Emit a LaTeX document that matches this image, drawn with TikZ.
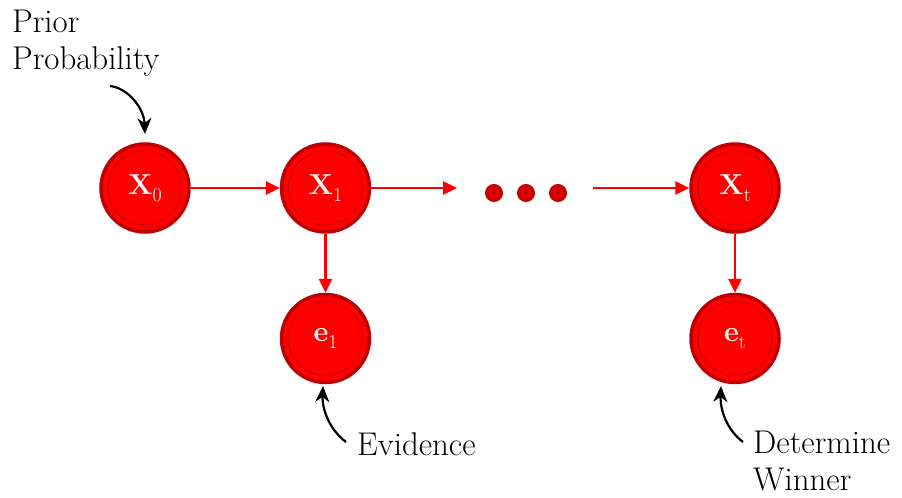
\documentclass[tikz,border=0pt]{standalone}
\usepackage{fontspec}
\usetikzlibrary{arrows.meta, positioning}
\definecolor{nodered}{HTML}{FF0000}
\definecolor{nodereddark}{HTML}{C00000}
\definecolor{ringred}{HTML}{D00000}
\definecolor{dotred}{HTML}{C80000}
\definecolor{textdark}{HTML}{000000}
\newcommand{\varsub}[2]{#1\raisebox{-7bp}{\fontsize{20}{20}\selectfont\mdseries #2}}

\begin{document}
\begin{tikzpicture}[x=1bp, y=-1bp,
    % ── Node styles ──────────────────────────────────────────────────────
    varnode/.style={
        circle, fill=nodered, draw=nodereddark, line width=3.5bp,
        minimum size=88bp, inner sep=0pt, text=white,
        font=\fontsize{29}{30}\selectfont\bfseries,
        path picture={
            \draw[ringred, line width=1bp]
                (path picture bounding box.center) circle (37bp);
        }
    },
    dotnode/.style={
        circle, fill=dotred, draw=dotred, line width=1bp,
        minimum size=17bp, inner sep=0pt,
        path picture={
            \draw[nodered, line width=0.8bp]
                (path picture bounding box.center) circle (4bp);
        }
    },
    notelabel/.style={
        font=\fontsize{33}{37}\selectfont, text=textdark,
        align=left, inner sep=0pt
    },
    % ── Arrow styles ─────────────────────────────────────────────────────
    arr/.style={
        -{Triangle[length=14bp, width=13bp]},
        line width=2.8bp, color=nodered
    },
    callout/.style={
        -{Stealth[length=16bp, width=14bp]},
        line width=2.2bp, color=textdark
    }
]
\useasboundingbox (0,0) rectangle (902,498);

% Chain of states
\node[varnode] (x0) at (145,188) {\varsub{X}{0}};
\node[varnode, right=89bp of x0] (x1) {\varsub{X}{1}};
\node[varnode, right=318bp of x1] (xt) {\varsub{X}{t}};

% Evidence nodes
\node[varnode, below=59bp of x1] (e1) {\varsub{e}{1}};
\node[varnode, below=59bp of xt] (et) {\varsub{e}{t}};

% Ellipsis dots
\node[dotnode] (dot1) at (494,193) {};
\node[dotnode, right=14bp of dot1] (dot2) {};
\node[dotnode, right=14bp of dot2] (dot3) {};
\coordinate (dotsin)  at (457,188);
\coordinate (dotsout) at (593,188);

% Labels
\node[notelabel, anchor=north west] (prior) at (12,10)
    {Prior\\Probability};
\node[notelabel, anchor=base west] (evidence) at (357,455) {Evidence};
\node[notelabel, anchor=north west] (winner) at (753,431)
    {Determine\\Winner};

% Arrows
\draw[arr] (x0) -- (x1);
\draw[arr] (x1) -- (dotsin);
\draw[arr] (dotsout) -- (xt);
\draw[arr] (x1) -- (e1);
\draw[arr] (xt) -- (et);

% Callout arrows
\coordinate (priorstart) at (110,86);
\coordinate (priortip)   at (145,134);
\coordinate (evstart)    at (346,442);
\coordinate (evtip)      at (323,386);
\coordinate (winstart)   at (743,442);
\coordinate (wintip)     at (721,386);
\draw[callout] (priorstart) .. controls (128,88) and (144,108) .. (priortip);
\draw[callout] (evstart) .. controls (330,430) and (322,410) .. (evtip);
\draw[callout] (winstart) .. controls (727,430) and (720,410) .. (wintip);

\end{tikzpicture}
\end{document}
